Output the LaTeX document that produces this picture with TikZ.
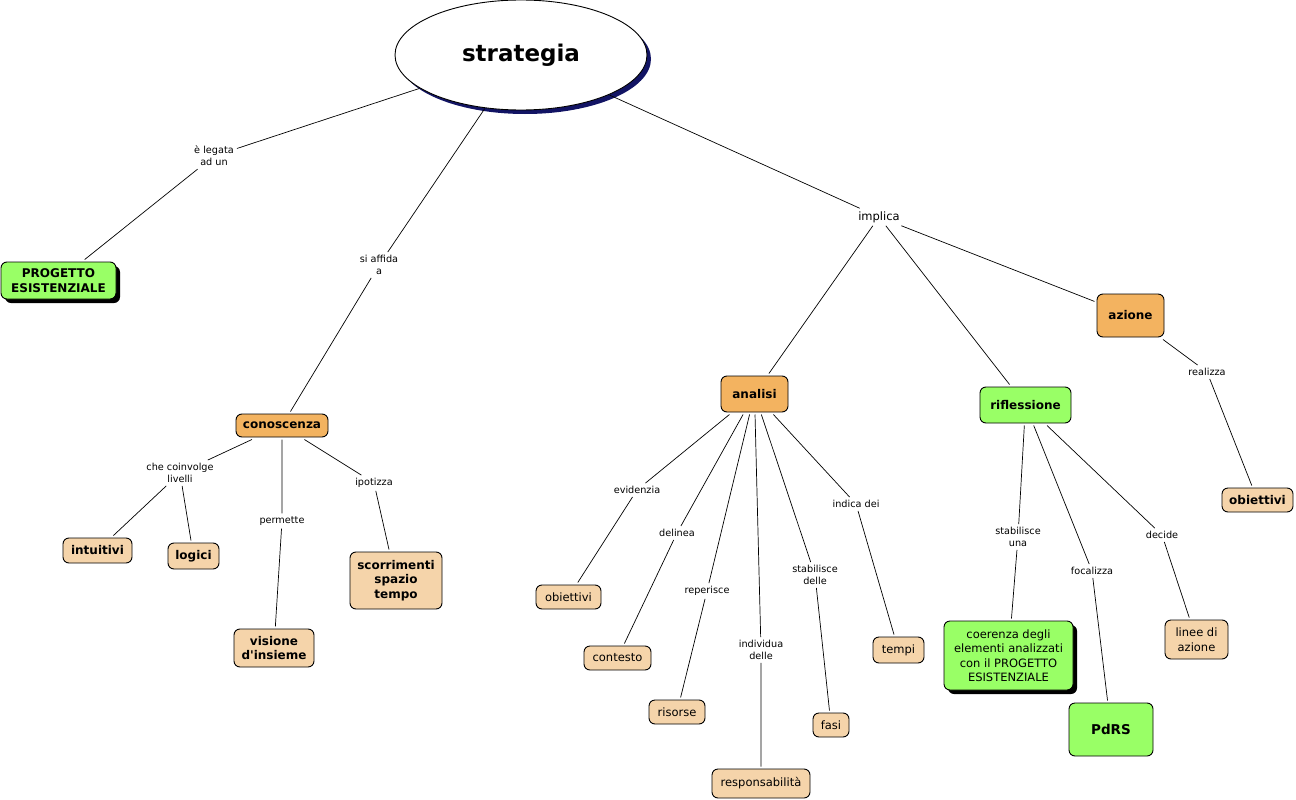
\documentclass[tikz,border=0pt]{standalone}
\usepackage{fontspec}
\setmainfont{DejaVu Sans}
\usetikzlibrary{shapes.geometric,shadows}
\definecolor{cmorange}{RGB}{243,179,96}
\definecolor{cmgreen}{RGB}{153,255,102}
\definecolor{cmpeach}{RGB}{245,212,170}
\definecolor{cmnavy}{RGB}{18,20,100}

\begin{document}
\begin{tikzpicture}[x=1pt,y=1pt,yscale=-1,xscale=1,
  concept/.style={draw, rounded corners=6pt, line width=0.9pt, align=center, inner sep=2pt, outer sep=2.5pt, font=\fontsize{11.5}{14.5}\selectfont},
  boldconcept/.style={concept, font=\fontsize{12}{14.5}\selectfont\bfseries},
  orangebox/.style={boldconcept, fill=cmorange},
  greenbox/.style={boldconcept, fill=cmgreen},
  peachbox/.style={concept, fill=cmpeach},
  boldpeach/.style={boldconcept, fill=cmpeach},
  blackshadow/.style={drop shadow={shadow xshift=4pt, shadow yshift=-4pt, fill=black, opacity=1}},
  linkword/.style={inner sep=3pt, align=center, font=\fontsize{9.7}{12}\selectfont},
  link/.style={line width=0.7pt}
]
\useasboundingbox (0,0) rectangle (1296,800);

%Shape: Ellipse
\node (strategia) [ellipse, draw, fill=white, line width=0.9pt, minimum width=252pt, minimum height=110pt, inner sep=0pt, outer sep=1pt,
  drop shadow={shadow xshift=4pt, shadow yshift=-4pt, fill=cmnavy, opacity=1},
  font=\fontsize{23}{27}\selectfont\bfseries] at (521,55) {strategia};

% Concepts
\node (progetto) [greenbox, blackshadow, minimum width=115pt, minimum height=37pt] at (58.5,280.5) {PROGETTO\\ESISTENZIALE};
\node (conoscenza) [orangebox, minimum width=92pt, minimum height=23pt] at (282,425.5) {conoscenza};
\node (intuitivi) [boldpeach, minimum width=69pt, minimum height=25pt] at (97.5,550.5) {intuitivi};
\node (logici) [boldpeach, minimum width=51pt, minimum height=26pt] at (193.5,556) {logici};
\node (visione) [boldpeach, minimum width=80pt, minimum height=38pt] at (274,648) {visione\\d\textquotesingle insieme};
\node (scorrimenti) [boldpeach, minimum width=92pt, minimum height=57pt] at (396,580.5) {scorrimenti\\spazio\\tempo};
\node (analisi) [orangebox, minimum width=67pt, minimum height=36pt] at (754.5,394) {analisi};
\node (obiettivia) [peachbox, minimum width=65pt, minimum height=24pt] at (568.5,597) {obiettivi};
\node (contesto) [peachbox, minimum width=67pt, minimum height=24pt] at (617.5,658) {contesto};
\node (risorse) [peachbox, minimum width=56pt, minimum height=24pt] at (677,712) {risorse};
\node (responsabilita) [peachbox, minimum width=98pt, minimum height=29pt] at (761,783.5) {responsabilità};
\node (fasi) [peachbox, minimum width=36pt, minimum height=24pt] at (831,725) {fasi};
\node (tempi) [peachbox, minimum width=51pt, minimum height=26pt] at (898.5,650) {tempi};
\node (azione) [orangebox, minimum width=67pt, minimum height=43pt] at (1130.5,315.5) {azione};
\node (obiettivib) [boldpeach, minimum width=71pt, minimum height=24pt] at (1257.5,500) {obiettivi};
\node (riflessione) [greenbox, minimum width=91pt, minimum height=36pt] at (1025.5,405) {riflessione};
\node (coerenza) [concept, fill=cmgreen, blackshadow, minimum width=129pt, minimum height=69pt] at (1008.5,655.5) {coerenza degli\\elementi analizzati\\con il PROGETTO\\ESISTENZIALE};
\node (pdrs) [greenbox, minimum width=84pt, minimum height=53pt, font=\fontsize{13.5}{16}\selectfont\bfseries] at (1111,729.5) {PdRS};
\node (linee) [peachbox, minimum width=63pt, minimum height=39pt] at (1196.5,639.5) {linee di\\azione};

% Text Node
\node (legata) [linkword] at (214,156) {è legata\\ad un};
\node (affida) [linkword] at (379,265) {si affida\\a};
\node (implica) [linkword, font=\fontsize{11.5}{13}\selectfont] at (879,217) {implica};
\node (coinvolge) [linkword] at (180,473) {che coinvolge\\livelli};
\node (permette) [linkword] at (282,521) {permette};
\node (ipotizza) [linkword] at (374,483) {ipotizza};
\node (evidenzia) [linkword] at (637,490) {evidenzia};
\node (delinea) [linkword] at (677,533) {delinea};
\node (reperisce) [linkword] at (707,591) {reperisce};
\node (individua) [linkword] at (761,650) {individua\\delle};
\node (stabdelle) [linkword] at (815,575) {stabilisce\\delle};
\node (indica) [linkword] at (856,504) {indica dei};
\node (realizza) [linkword] at (1207,372) {realizza};
\node (stabuna) [linkword] at (1018,537) {stabilisce\\una};
\node (focalizza) [linkword] at (1092,571) {focalizza};
\node (decide) [linkword] at (1162,535) {decide};

%Straight Lines
\draw [link] (strategia) -- (legata) (legata) -- (progetto);
\draw [link] (strategia) -- (affida) (affida) -- (conoscenza);
\draw [link] (strategia) -- (implica);
\draw [link] (implica) -- (analisi);
\draw [link] (implica) -- (riflessione);
\draw [link] (implica) -- (azione);
\draw [link] (conoscenza) -- (coinvolge) (coinvolge) -- (intuitivi);
\draw [link] (coinvolge) -- (logici);
\draw [link] (conoscenza) -- (permette) (permette) -- (visione);
\draw [link] (conoscenza) -- (ipotizza) (ipotizza) -- (scorrimenti);
\draw [link] (analisi) -- (evidenzia) (evidenzia) -- (obiettivia);
\draw [link] (analisi) -- (delinea) (delinea) -- (contesto);
\draw [link] (analisi) -- (reperisce) (reperisce) -- (risorse);
\draw [link] (analisi) -- (individua) (individua) -- (responsabilita);
\draw [link] (analisi) -- (stabdelle) (stabdelle) -- (fasi);
\draw [link] (analisi) -- (indica) (indica) -- (tempi);
\draw [link] (azione) -- (realizza) (realizza) -- (obiettivib);
\draw [link] (riflessione) -- (stabuna) (stabuna) -- (coerenza);
\draw [link] (riflessione) -- (focalizza) (focalizza) -- (pdrs);
\draw [link] (riflessione) -- (decide) (decide) -- (linee);

\end{tikzpicture}
\end{document}
